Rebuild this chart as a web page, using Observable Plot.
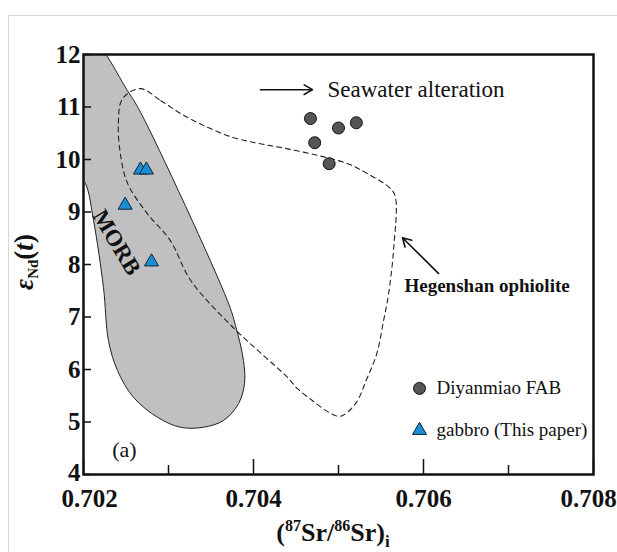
<!DOCTYPE html>
<html><head><meta charset="utf-8">
<script src="https://cdn.jsdelivr.net/npm/d3@7"></script>
<script src="https://cdn.jsdelivr.net/npm/@observablehq/plot@0.6"></script>
<style>
body{margin:0;background:#fff;}
#wrap{position:relative;width:617px;height:552px;overflow:hidden;}
#border{position:absolute;left:8px;top:15px;width:700px;height:700px;border-left:1.5px solid #d6d6d6;border-top:1.5px solid #d6d6d6;}
#chart{position:absolute;left:0;top:0;}
</style></head><body>
<div id="wrap"><div id="border"></div><div id="chart"></div></div>
<script>
// Diyanmiao FAB
const diyanmiaoSr = [0.70467, 0.70500, 0.70521, 0.70472, 0.70489];
const diyanmiaoNd = [10.78, 10.60, 10.70, 10.32, 9.92];
// gabbro (This paper)
const gabbroSr = [0.70267, 0.70274, 0.70249, 0.70280];
const gabbroNd = [9.80, 9.80, 9.13, 8.05];
// MORB field outline
const morbSr = [0.70190, 0.70210, 0.702518, 0.702671, 0.703694, 0.703788, 0.703882, 0.703894, 0.703824, 0.703647, 0.703412, 0.703141, 0.702871, 0.702588, 0.702400, 0.702294, 0.702235, 0.702118, 0.702024, 0.70190];
const morbNd = [12.3, 12.3, 11.31, 10.90, 7.31, 6.84, 6.17, 5.73, 5.35, 5.03, 4.90, 4.90, 5.09, 5.47, 5.98, 6.55, 7.56, 8.84, 9.54, 9.80];
// Hegenshan ophiolite field outline
const hegSr = [0.70267, 0.70291, 0.70314, 0.70341, 0.70376, 0.70408, 0.70435, 0.70475, 0.70511, 0.70534, 0.70561, 0.70567, 0.70565, 0.70559, 0.70553, 0.70545, 0.70533, 0.70520, 0.70502, 0.70488, 0.70470, 0.70452, 0.70440, 0.70376, 0.70326, 0.70302, 0.70275, 0.70252, 0.70244, 0.70241, 0.70246];
const hegNd = [11.35, 11.12, 10.88, 10.65, 10.42, 10.30, 10.22, 10.08, 9.92, 9.73, 9.45, 9.28, 8.32, 7.45, 6.93, 6.30, 5.81, 5.35, 5.11, 5.19, 5.40, 5.63, 5.85, 6.80, 7.70, 8.46, 8.97, 9.54, 10.04, 10.69, 11.16];
// ticks
const xTickLabels = [0.702, 0.704, 0.706, 0.708];
const xMinorTicks = [0.703, 0.705, 0.707];
const yTicks = [4, 5, 6, 7, 8, 9, 10, 11, 12];
// legend / annotations (data coordinates)
const legendLabels = ["Diyanmiao FAB", "gabbro (This paper)"];
const legendSr = [0.705953, 0.705953];
const legendNd = [5.64, 4.84];
const legendTextSr = 0.706153;
const seawaterArrow = {x1: 0.704082, x2: 0.704694, y: 11.33};
const seawaterText = {x: 0.704871, y: 11.33, text: "Seawater alteration"};
const hegArrow = {x1: 0.706176, y1: 7.83, x2: 0.705753, y2: 8.51};
const hegText = {x: 0.705776, y: 7.60, text: "Hegenshan ophiolite"};
const morbText = {x: 0.70239, y: 8.42, text: "MORB"};
const panelText = {x: 0.702482, y: 4.46, text: "(a)"};

const diy = diyanmiaoSr.map((x, i) => ({x, y: diyanmiaoNd[i]}));
const gab = gabbroSr.map((x, i) => ({x, y: gabbroNd[i]}));
const morb = morbSr.map((x, i) => ({x, y: morbNd[i]}));
const heg = hegSr.map((x, i) => ({x, y: hegNd[i]}));
const leg = legendLabels.map((t, i) => ({t, x: legendSr[i], y: legendNd[i], tx: legendTextSr}));

const serif = "'Liberation Serif','Times New Roman',serif";
const chart = Plot.plot({
  width: 617, height: 552,
  marginLeft: 83, marginRight: 24, marginTop: 54, marginBottom: 78,
  x: {domain: [0.702, 0.708]},
  y: {domain: [4, 12]},
  style: {fontFamily: serif, background: "transparent", color: "#111", overflow: "visible"},
  marks: [
    Plot.line(morb, {x: "x", y: "y", curve: "catmull-rom-closed", fill: "#c0c0c0", stroke: "#222", strokeWidth: 1, clip: true}),
    Plot.line(heg, {x: "x", y: "y", curve: "catmull-rom-closed", stroke: "#222", strokeWidth: 1.1, strokeDasharray: "5,4"}),
    Plot.arrow([seawaterArrow], {x1: "x1", x2: "x2", y1: "y", y2: "y", stroke: "#111", strokeWidth: 1.6, headLength: 9}),
    Plot.arrow([hegArrow], {x1: "x1", y1: "y1", x2: "x2", y2: "y2", stroke: "#111", strokeWidth: 1.6, headLength: 9}),
    Plot.dot(diy, {x: "x", y: "y", r: 6, fill: "#555", stroke: "#111", strokeWidth: 1}),
    Plot.dot(gab, {x: "x", y: "y", symbol: "triangle", r: 5.2, fill: "#1a8fd6", stroke: "#123", strokeWidth: 1}),
    Plot.dot([leg[0]], {x: "x", y: "y", r: 6, fill: "#555", stroke: "#111", strokeWidth: 1}),
    Plot.dot([leg[1]], {x: "x", y: "y", symbol: "triangle", r: 5.2, fill: "#1a8fd6", stroke: "#123", strokeWidth: 1}),
    Plot.text(leg, {x: "tx", y: "y", text: "t", textAnchor: "start", fontSize: 19, fill: "#111"}),
    Plot.text([seawaterText], {x: "x", y: "y", text: "text", textAnchor: "start", fontSize: 23, fill: "#111"}),
    Plot.text([hegText], {x: "x", y: "y", text: "text", textAnchor: "start", fontSize: 19, fontWeight: "bold", fill: "#111", letterSpacing: 1}),
    Plot.text([morbText], {x: "x", y: "y", text: "text", fontSize: 23, fontWeight: "bold", rotate: 59, fill: "#111"}),
    Plot.text([panelText], {x: "x", y: "y", text: "text", fontSize: 22, fill: "#111"}),
    Plot.tickX(xTickLabels, {x: d => d, insetTop: 405, stroke: "#111", strokeWidth: 1.5}),
    Plot.tickX(xMinorTicks, {x: d => d, insetTop: 411, stroke: "#111", strokeWidth: 1.5}),
    Plot.tickY(yTicks, {y: d => d, insetRight: 502, stroke: "#111", strokeWidth: 1.5}),
    Plot.axisX(xTickLabels, {tickSize: 0, tickPadding: 15, fontSize: 25, fontWeight: "bold", label: null, tickFormat: d => d.toFixed(3)}),
    Plot.axisY(yTicks, {tickSize: 0, tickPadding: 3, fontSize: 25, fontWeight: "bold", label: null, tickFormat: d => String(d)}),
    Plot.frame({stroke: "#111", strokeWidth: 2.5})
  ]
});
document.getElementById("chart").appendChild(chart);

const svg = d3.select(chart);
// nudge outer x tick labels inward as in the reference
const xl = svg.selectAll('[aria-label="x-axis tick label"] text');
const n = xl.size();
xl.each(function(d, i) {
  if (i === 0) d3.select(this).attr("dx", 6);
  if (i === n - 1) d3.select(this).attr("dx", -5);
});
// lift the lowest y label slightly off the x labels
svg.selectAll('[aria-label="y-axis tick label"] text').each(function(d, i) {
  if (i === 0) d3.select(this).attr("dy", "-0.05em");
});
// x axis title
const xt = svg.append("text").attr("x", 333).attr("y", 541).attr("text-anchor", "middle")
  .attr("font-family", serif).attr("font-weight", "bold").attr("font-size", 26).attr("fill", "#111");
xt.append("tspan").text("(");
xt.append("tspan").attr("dy", -10).attr("font-size", 16).text("87");
xt.append("tspan").attr("dy", 10).text("Sr/");
xt.append("tspan").attr("dy", -10).attr("font-size", 16).text("86");
xt.append("tspan").attr("dy", 10).text("Sr)");
xt.append("tspan").attr("dy", 6).attr("font-size", 17).text("i");
// y axis title
const yt = svg.append("text").attr("transform", "translate(33,262) rotate(-90)").attr("text-anchor", "middle")
  .attr("font-family", serif).attr("font-weight", "bold").attr("font-size", 27).attr("fill", "#111");
yt.append("tspan").attr("font-style", "italic").text("ε");
yt.append("tspan").attr("dy", 5).attr("font-size", 15).text("Nd");
yt.append("tspan").attr("dy", -5).text("(");
yt.append("tspan").attr("font-style", "italic").text("t");
yt.append("tspan").text(")");
</script>
</body></html>
